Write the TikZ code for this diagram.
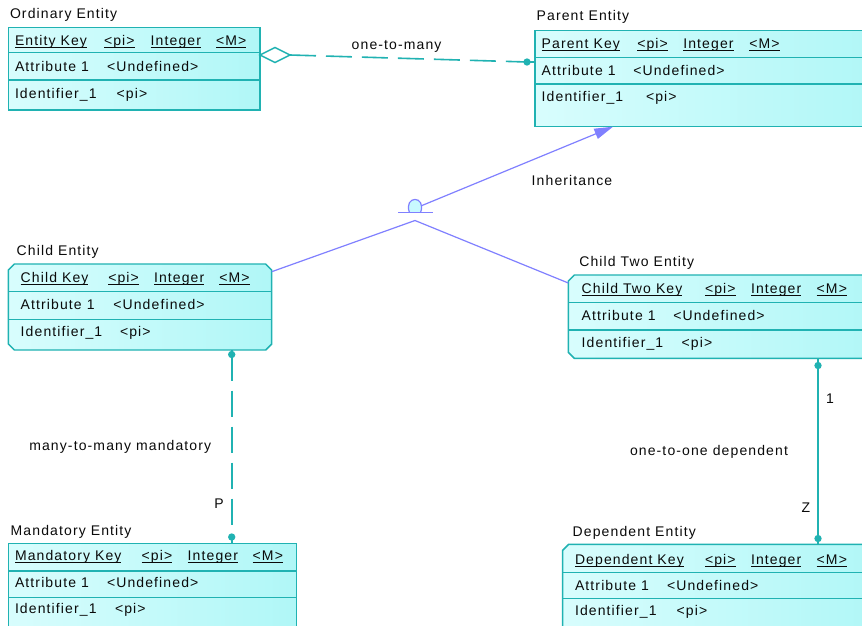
\documentclass[tikz,border=0pt]{standalone}
\usepackage{fontspec}
\setmainfont{Liberation Sans}[LetterSpace=8]
\usetikzlibrary{arrows.meta,shapes.geometric}
\definecolor{bord}{RGB}{32,178,178}
\definecolor{fillA}{RGB}{216,253,253}
\definecolor{fillB}{RGB}{176,247,247}
\definecolor{inhc}{RGB}{128,128,255}
\definecolor{bumpc}{RGB}{200,250,255}
\definecolor{txtc}{RGB}{10,10,10}
\newcommand\myul[1]{\setbox0\hbox{#1}\rlap{\rule[-2pt]{\wd0}{0.75pt}}\box0}
\newcommand\ebox[5]{\path[ent] ({#1+#5},#2) -- ({#3-#5},#2) -- (#3,{#2+#5}) -- (#3,{#4-#5}) -- ({#3-#5},#4) -- ({#1+#5},#4) -- (#1,{#4-#5}) -- (#1,{#2+#5}) -- cycle;}
\newcommand\erows[4]{\draw[row] (#1,#3) -- (#2,#3); \draw[row] (#1,#4) -- (#2,#4);}
\newcommand\hdr[7]{%
 \node[txt] (#1k) at (#3,#2) {\myul{#7}};
 \node[txt] (#1p) at (#4,#2) {\myul{<pi>}};
 \node[txt] (#1i) at (#5,#2) {\myul{Integer}};
 \node[txt] (#1m) at (#6,#2) {\myul{<M>}};}
\newcommand\bodyrows[6]{%
 \node[txt] (#1a) at (#2,#3) {Attribute 1};
 \node[txt] (#1u) at (#4,#3) {<Undefined>};
 \node[txt] (#1d) at (#2,#5) {Identifier\_1};
 \node[txt] (#1q) at (#6,#5) {<pi>};}
\begin{document}
\begin{tikzpicture}[x=0.75pt,y=-0.75pt,
 ent/.style={draw=bord, line width=1.1pt, left color=fillA, right color=fillB},
 row/.style={draw=bord, line width=1.1pt},
 txt/.style={anchor=base west, inner sep=0pt, outer sep=0pt, text=txtc, font=\fontsize{10.5pt}{12pt}\selectfont},
 rel/.style={draw=bord, line width=1.2pt},
 dsh/.style={rel, dash pattern=on 19.5pt off 7.5pt},
 dotc/.style={circle, fill=bord, inner sep=0pt, minimum size=5.5pt},
 inh/.style={draw=inhc, line width=0.9pt}]
\useasboundingbox (0,0) rectangle (862,625);
\fill[white] (0,0) rectangle (862,625);

% ---------- entity boxes ----------
\ebox{8.3}{27.3}{260}{110}{0}
\erows{8.3}{260}{52.3}{80}
\ebox{535}{30.7}{880}{126.7}{0}
\erows{535}{880}{57.3}{84}
\ebox{8.3}{264}{271.7}{350}{6}
\erows{8.3}{271.7}{291.7}{319.3}
\ebox{568.3}{275}{880}{358.3}{6}
\erows{568.3}{880}{302.7}{330}
\ebox{8.3}{543.3}{296.7}{645}{0}
\erows{8.3}{296.7}{571}{597.3}
\ebox{562.7}{544.3}{880}{645}{6}
\erows{562.7}{880}{572.3}{598.3}

% ---------- titles ----------
\node[txt] (tord) at (10,18.5) {Ordinary Entity};
\node[txt] (tpar) at (536.7,20.7) {Parent Entity};
\node[txt] (tchi) at (16.7,255) {Child Entity};
\node[txt] (tct)  at (579.3,266.7) {Child Two Entity};
\node[txt] (tman) at (10.7,535) {Mandatory Entity};
\node[txt] (tdep) at (572.7,536.7) {Dependent Entity};

% ---------- entity rows ----------
\hdr{ord}{45.5}{15}{104}{150.7}{216}{Entity Key}
\bodyrows{ord}{15}{71.5}{107}{98}{116.7}
\hdr{par}{48.3}{541.7}{637.3}{683.3}{749.3}{Parent Key}
\bodyrows{par}{541.7}{75}{633.3}{101.7}{646}
\hdr{chi}{282.3}{20.7}{108.3}{154}{219.3}{Child Key}
\bodyrows{chi}{20.7}{309}{113.3}{336.5}{120}
\hdr{ct}{293.3}{581.7}{705}{751}{816.7}{Child Two Key}
\bodyrows{ct}{581.7}{320}{673.3}{347}{681.7}
\hdr{man}{560.7}{15}{141.7}{187.7}{252.7}{Mandatory Key}
\bodyrows{man}{15}{587.3}{107}{613.3}{115}
\hdr{dep}{564.3}{575}{705}{751}{816.7}{Dependent Key}
\bodyrows{dep}{575}{590}{667}{615}{676.7}

% ---------- one-to-many ----------
\node[diamond, draw=bord, fill=white, line width=1.1pt, aspect=2, minimum width=22.5pt, minimum height=11.25pt, inner sep=0pt, outer sep=0pt, anchor=west] (dia) at (260,55) {};
\coordinate (d1) at (527,62);
\coordinate (p1) at (535,62);
\draw[dsh] (dia.east) -- (d1);
\draw[rel] (d1) -- (p1);
\node[dotc] (dot1) at (d1) {};
\node[txt] (l1) at (351.7,49.3) {one-to-many};

% ---------- inheritance ----------
\coordinate (il) at (398.3,212.7);
\coordinate (ir) at (433.3,212.7);
\coordinate (ia) at (422,205.5);
\coordinate (pt) at (613,126.7);
\coordinate (iapex) at (415,220.5);
\coordinate (c1) at (271.7,271.7);
\coordinate (c2) at (568.3,283);
\draw[inh, fill=bumpc] (409.5,212.7) .. controls (403,195) and (427,195) .. (420.5,212.7);
\draw[inh] (il) -- (ir);
\draw[inh, -{Triangle[length=14pt,width=8pt]}] (ia) -- (pt);
\draw[inh] (iapex) -- (c1);
\draw[inh] (iapex) -- (c2);
\node[txt] (l2) at (531.7,185.5) {Inheritance};

% ---------- many-to-many mandatory ----------
\coordinate (m0) at (231.7,350);
\coordinate (d3) at (231.7,354.5);
\coordinate (d4) at (231.7,537);
\coordinate (m1) at (231.7,543.3);
\draw[rel] (m0) -- (d3);
\draw[dsh] (d3) -- (d4);
\draw[rel] (d4) -- (m1);
\node[dotc] (dot3) at (d3) {};
\node[dotc] (dot4) at (d4) {};
\node[txt] (l3) at (29.3,450.7) {many-to-many mandatory};
\node[txt] (l3p) at (214.3,508.5) {P};

% ---------- one-to-one dependent ----------
\coordinate (o0) at (818,358.3);
\coordinate (d5) at (818,365.5);
\coordinate (d6) at (818,538.5);
\coordinate (o1) at (818,544.3);
\draw[rel] (o0) -- (d5) -- (d6) -- (o1);
\node[dotc] (dot5) at (d5) {};
\node[dotc] (dot6) at (d6) {};
\node[txt] (l4) at (630,455.5) {one-to-one dependent};
\node[txt] (l41) at (826,403) {1};
\node[txt] (l4z) at (801.7,512.3) {Z};
\end{tikzpicture}
\end{document}
